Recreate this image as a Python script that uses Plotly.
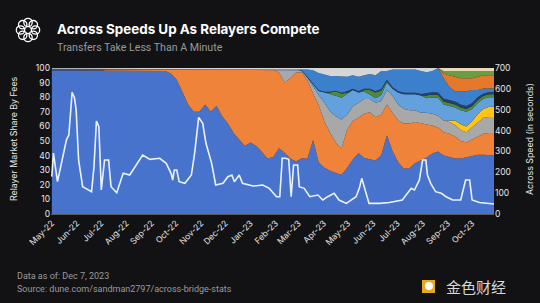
import plotly.graph_objects as go
import pandas as pd
import math

# ---------------- DATA ----------------
weeks = pd.date_range("2022-05-01", periods=79, freq="7D")

share_relayer1 = [98.5]*4 + [98]*3 + [98.5]*3 + [98]*11 + [
    96, 92, 83.5, 75, 70, 70, 75, 70, 74, 67, 62, 55.5, 51, 46.5, 49, 46.5, 42.5, 38, 39,
    45, 42, 38, 36, 38, 38, 51, 36, 32, 30, 28, 27, 31.5, 37, 42, 38, 37, 37, 39, 54,
    42.5, 35.5, 31, 31.5, 35, 37, 39, 41, 42, 40, 39, 38, 38, 39, 40, 40.5, 40.5, 40, 40]
share_relayer2 = [0]*10 + [1]*11 + [
    2.5, 7, 15.5, 24, 29, 29, 24, 29, 25, 32, 37, 43.5, 48, 52.5, 50, 52.5, 56.5, 61, 60,
    52, 48, 55, 61, 58.5, 54, 32, 40, 32, 26, 21, 18, 26, 26, 24.5, 30, 32, 30, 27, 21,
    26, 28.5, 31, 30.5, 28, 26, 23, 19, 16, 16, 16, 15, 12, 10, 11, 13, 14.5, 15.5, 15.5]
share_relayer3 = [0]*40 + [
    2, 9, 6, 2, 1, 2, 5, 7, 13, 15, 18, 20, 10.5, 10, 10.5, 10, 9, 10, 9, 10,
    11.5, 11, 10, 9, 8, 7, 8, 8, 8, 8, 8, 8, 7.5, 7, 8.5, 9.5, 11, 11, 11]
share_relayer4 = [0]*70 + [1, 3, 4, 4, 4, 5.5, 6, 7, 7]
share_relayer5 = [0]*46 + [
    1, 3, 7, 12, 14, 15, 14, 11, 7, 5, 3, 3, 4, 5, 5, 8, 10, 11, 11, 12,
    10, 11, 12, 11, 10, 9, 9.5, 10, 8.5, 7.5, 7, 6.5, 6.5]
share_relayer6 = [0]*49 + [1, 3, 3, 1, 0, 0, 1, 3, 4, 3, 1] + [0]*6 + [2]*13
share_relayer7 = [0.5]*4 + [1]*3 + [0.5]*3 + [0]*34 + [
    0.5, 0.5, 1, 0.5, 0.5, 0.5, 0.5, 0.5] + [1]*14 + [1.5]*3 + [2]*7 + [1.5]*3
share_relayer8 = [0.5]*22 + [0]*22 + [
    1, 5, 9, 12, 12, 11, 10, 11, 10, 9, 10, 9, 10, 11, 12, 6, 12, 15, 16, 16, 16, 16,
    14.5, 14.5, 16.5, 14, 9, 7, 9, 10, 9, 5, 3.5, 2.5, 2.5]
share_relayer9 = [0]*69 + [3, 8, 10, 9, 9, 8, 9, 9, 9, 9]
share_relayer10 = [0]*69 + [2, 3, 4, 5, 5, 5, 4, 3, 3, 3]
share_relayer11 = [0.5]*21 + [1]*23 + [
    0.5, 1, 1.5, 3.5, 4.5, 5.5, 5.5, 6, 6, 5, 6, 5, 4, 5, 2, 2, 1, 1, 1, 1, 1,
    2, 3, 2] + [0]*10
share_relayer12 = [0]*69 + [2]*10

speed_dates = [
    "2022-05-01", "2022-05-03", "2022-05-08", "2022-05-19", "2022-05-22", "2022-05-26",
    "2022-05-29", "2022-05-31", "2022-06-03", "2022-06-08", "2022-06-19", "2022-06-22",
    "2022-06-25", "2022-06-28", "2022-07-01", "2022-07-05", "2022-07-10", "2022-07-13",
    "2022-07-20", "2022-07-28", "2022-08-05", "2022-08-17", "2022-08-21", "2022-08-30",
    "2022-09-11", "2022-09-19", "2022-09-25", "2022-09-27", "2022-09-29", "2022-10-02",
    "2022-10-05", "2022-10-12", "2022-10-20", "2022-10-24", "2022-10-29", "2022-11-03",
    "2022-11-07", "2022-11-14", "2022-11-19", "2022-11-28", "2022-12-04", "2022-12-09",
    "2022-12-12", "2022-12-18", "2022-12-22", "2023-01-04", "2023-01-16", "2023-01-24",
    "2023-02-02", "2023-02-06", "2023-02-09", "2023-02-13", "2023-02-17", "2023-02-20",
    "2023-02-23", "2023-02-28", "2023-03-02", "2023-03-08", "2023-03-15", "2023-03-25",
    "2023-03-31", "2023-04-06", "2023-04-14", "2023-04-20", "2023-04-29", "2023-05-11",
    "2023-05-15", "2023-05-18", "2023-05-22", "2023-05-27", "2023-06-09", "2023-06-21",
    "2023-07-07", "2023-07-18", "2023-07-22", "2023-07-28", "2023-08-01", "2023-08-05",
    "2023-08-07", "2023-08-11", "2023-08-17", "2023-08-24", "2023-08-30", "2023-09-07",
    "2023-09-17", "2023-09-23", "2023-09-28", "2023-10-01", "2023-10-10", "2023-10-22",
    "2023-10-28"]
speed_seconds = [
    179, 292, 155, 355, 379, 583, 556, 499, 259, 131, 107, 227,
    446, 419, 115, 259, 259, 131, 102, 195, 187, 259, 283, 262,
    267, 243, 195, 163, 211, 211, 155, 147, 187, 291, 463, 435,
    339, 243, 139, 147, 179, 187, 155, 187, 147, 134, 139, 123,
    83, 83, 267, 267, 262, 83, 235, 235, 131, 123, 83, 91,
    67, 83, 99, 67, 51, 83, 123, 171, 115, 51, 51, 55,
    67, 123, 115, 163, 259, 259, 187, 147, 107, 99, 83, 67,
    67, 163, 163, 67, 55, 48, 48]

left_ticks = [0, 10, 20, 30, 40, 50, 60, 70, 80, 90, 100]
right_ticks = [0, 100, 200, 300, 400, 500, 600, 700]

# ---------------- STYLE ----------------
W, H = 540, 303
L, R, T, B = 51, 46, 68, 89
PW, PH = W - L - R, H - T - B
BG = "#121214"
FONT = "Inter"
TFONT = "Roboto"

def px(x):
    return (x - L) / PW

def py(y):
    return (H - B - y) / PH

series = [
    (share_relayer1, "#4773CC"),
    (share_relayer2, "#F0833A"),
    (share_relayer3, "#A8A8A8"),
    (share_relayer4, "#FFC414"),
    (share_relayer5, "#62A1DE"),
    (share_relayer6, "#4E8A3A"),
    (share_relayer7, "#263F70"),
    (share_relayer8, "#3C80CC"),
    (share_relayer9, "#E5782C"),
    (share_relayer10, "#6A9E45"),
    (share_relayer11, "#D6D6D6"),
    (share_relayer12, "#E9D9B8"),
]

fig = go.Figure()
for vals, col in series:
    fig.add_trace(go.Scatter(
        x=weeks, y=vals, mode="lines", stackgroup="share", groupnorm="percent",
        line=dict(width=0, color=col), fillcolor=col, showlegend=False,
        hoverinfo="skip"))

fig.add_trace(go.Scatter(
    x=pd.to_datetime(speed_dates), y=speed_seconds, mode="lines", yaxis="y2",
    line=dict(color="#EAF1FF", width=1.6), showlegend=False))

tickfont = dict(family=FONT, size=8.5, color="#E6E6E6")
fig.update_layout(
    width=W, height=H,
    margin=dict(l=L, r=R, t=T, b=B),
    paper_bgcolor=BG, plot_bgcolor=BG,
    showlegend=False,
    xaxis=dict(
        type="date", range=["2022-04-30", "2023-10-28"],
        tick0="2022-05-01", dtick="M1", tickformat="%b-%y", tickangle=-45,
        tickfont=tickfont, showgrid=False, zeroline=False,
        showline=True, linecolor="#5A5A5A", linewidth=1, ticks="", ticklen=0),
    yaxis=dict(
        range=[0, 100], tickvals=left_ticks, ticksuffix="%",
        tickfont=tickfont, showgrid=False, zeroline=False, ticks=""),
    yaxis2=dict(
        overlaying="y", side="right", range=[0, 700], tickvals=right_ticks,
        tickfont=tickfont, showgrid=False, zeroline=False, ticks=""),
)

ann = [
    dict(text="<b>Across Speeds Up As Relayers Compete</b>", x=px(55), y=py(29),
         xanchor="left", yanchor="middle", font=dict(family=FONT, size=13.4, color="#FFFFFF")),
    dict(text="Transfers Take Less Than A Minute", x=px(55), y=py(48),
         xanchor="left", yanchor="middle", font=dict(family=TFONT, size=10.6, color="#9A9A9A")),
    dict(text="Relayer Market Share By Fees", x=px(13), y=py(139), textangle=-90,
         xanchor="center", yanchor="middle", font=dict(family=FONT, size=8.8, color="#E6E6E6")),
    dict(text="Across Speed (in seconds)", x=px(529), y=py(139), textangle=-90,
         xanchor="center", yanchor="middle", font=dict(family=FONT, size=8.8, color="#E6E6E6")),
    dict(text="Data as of: Dec 7, 2023", x=px(15), y=py(276),
         xanchor="left", yanchor="middle", font=dict(family=TFONT, size=9, color="#9A9A9A")),
    dict(text="Source: dune.com/sandman2797/across-bridge-stats", x=px(15), y=py(289),
         xanchor="left", yanchor="middle", font=dict(family=TFONT, size=9, color="#9A9A9A")),
    dict(text="金色财经", x=px(444), y=py(286),
         xanchor="left", yanchor="middle",
         font=dict(family="Noto Sans CJK SC", size=15, color="#D8D8D8")),
]
for a in ann:
    a.update(xref="paper", yref="paper", showarrow=False)
fig.update_layout(annotations=ann)

shapes = []
# logo: ring of interlinked circles
cx, cy, rr, cr = 28, 30, 7.5, 4.2
for k in range(8):
    ang = 2 * math.pi * k / 8
    ccx, ccy = cx + rr * math.cos(ang), cy + rr * math.sin(ang)
    shapes.append(dict(type="circle", xref="paper", yref="paper",
                       x0=px(ccx - cr), x1=px(ccx + cr), y0=py(ccy + cr), y1=py(ccy - cr),
                       line=dict(color="#FFFFFF", width=1.3)))
# watermark icon
shapes.append(dict(type="rect", xref="paper", yref="paper",
                   x0=px(422), x1=px(435), y0=py(293), y1=py(280),
                   fillcolor="#E8A820", line=dict(width=0)))
shapes.append(dict(type="circle", xref="paper", yref="paper",
                   x0=px(425), x1=px(433), y0=py(290), y1=py(282),
                   fillcolor="#FFFFFF", line=dict(width=0)))
fig.update_layout(shapes=shapes)

fig.write_html("out.html")
